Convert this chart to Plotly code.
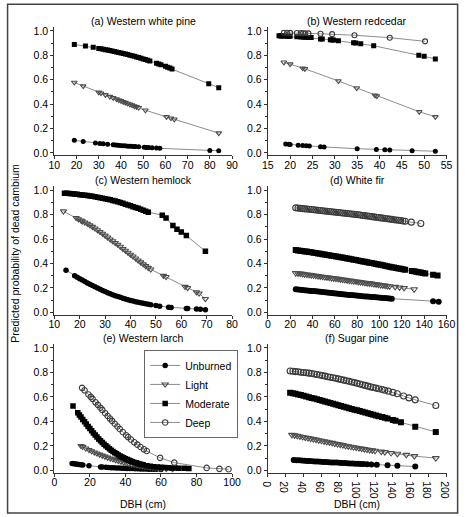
import plotly.graph_objects as go
from plotly.subplots import make_subplots

# ---------------- data ----------------
series_names = ["Unburned", "Light", "Moderate", "Deep"]
panel_titles = ["(a) Western white pine", "(b) Western redcedar", "(c) Western hemlock",
                "(d) White fir", "(e) Western larch", "(f) Sugar pine"]
x_ranges = [[10, 90], [15, 55], [10, 80], [0, 160], [0, 100], [0, 200]]
x_dticks = [10, 5, 10, 20, 20, 20]
y_ticks = [0.0, 0.2, 0.4, 0.6, 0.8, 1.0]
y_title = "Predicted probability of dead cambium"
x_title = "DBH (cm)"

# (a) Western white pine
a_unb_x = [19, 23, 28.5, 30.5, 32, 34, 36.5, 37.5, 38.5, 39.5, 40.5, 41.5, 42.5, 43.5, 44.5, 45.5, 46.5, 48, 50.5, 51.5, 52.5, 54, 56, 57.5, 80, 84]
a_unb_y = [0.104, 0.094, 0.082, 0.078, 0.075, 0.071, 0.067, 0.065, 0.063, 0.062, 0.060, 0.059, 0.057, 0.056, 0.055, 0.053, 0.052, 0.050, 0.046, 0.045, 0.044, 0.042, 0.040, 0.038, 0.021, 0.019]
a_lig_x = [19, 23, 30, 31, 33, 35, 36.5, 38, 39, 40, 41, 42, 43, 44, 45, 46, 47, 48, 51, 60.5, 62.5, 64, 84]
a_lig_y = [0.578, 0.548, 0.497, 0.490, 0.476, 0.462, 0.452, 0.441, 0.434, 0.427, 0.420, 0.413, 0.406, 0.399, 0.392, 0.385, 0.378, 0.371, 0.350, 0.296, 0.285, 0.276, 0.163]
a_mod_x = [19, 24, 27.5, 30, 31, 32, 33, 34, 35, 36, 37, 38, 39, 40, 41, 42, 43, 44, 45, 46, 47, 48, 49, 50, 51, 52, 53, 56, 57, 58, 60, 61, 62, 63, 79.5, 84]
a_mod_y = [0.890, 0.877, 0.866, 0.857, 0.854, 0.850, 0.847, 0.843, 0.840, 0.836, 0.832, 0.828, 0.824, 0.820, 0.816, 0.811, 0.807, 0.802, 0.797, 0.792, 0.787, 0.782, 0.777, 0.771, 0.766, 0.760, 0.754, 0.736, 0.730, 0.723, 0.710, 0.703, 0.696, 0.689, 0.568, 0.535]
a_deep_x = []
a_deep_y = []

# (b) Western redcedar
b_unb_x = [19.0, 19.7, 20.0, 21.8, 22.8, 23.6, 24.3, 26.8, 27.6, 35.0, 39.3, 41.2, 42.3, 47.3, 52.5]
b_unb_y = [0.073, 0.071, 0.070, 0.064, 0.061, 0.059, 0.057, 0.051, 0.049, 0.035, 0.029, 0.026, 0.025, 0.019, 0.014]
b_lig_x = [18.6, 20.0, 22.8, 23.3, 30.8, 34.9, 39.0, 39.4, 48.9, 52.5]
b_lig_y = [0.743, 0.728, 0.695, 0.690, 0.590, 0.532, 0.472, 0.467, 0.338, 0.296]
b_mod_x = [17.5, 17.9, 18.2, 18.6, 19.3, 19.7, 20.0, 21.5, 22.4, 22.9, 23.4, 24.0, 24.7, 26.8, 27.2, 29.0, 29.4, 29.7, 30.8, 34.2, 34.7, 35.8, 38.7, 48.8, 50.0, 52.5]
b_mod_y = [0.960, 0.959, 0.959, 0.958, 0.957, 0.956, 0.956, 0.953, 0.951, 0.950, 0.949, 0.947, 0.946, 0.935, 0.934, 0.928, 0.926, 0.925, 0.920, 0.903, 0.901, 0.896, 0.879, 0.801, 0.792, 0.771]
b_deep_x = [18.6, 19.3, 20.0, 21.5, 22.4, 22.9, 23.4, 24.1, 26.8, 29.4, 34.4, 42.3, 50.2]
b_deep_y = [0.985, 0.985, 0.984, 0.983, 0.982, 0.981, 0.981, 0.980, 0.977, 0.974, 0.965, 0.945, 0.915]

# (c) Western hemlock
c_unb_x = [14.6, 18, 19, 20, 21, 22, 23, 24, 25, 26, 27, 28, 29, 30, 31, 32, 33, 34, 35, 36, 37, 38, 39, 40, 41, 42, 43, 44, 45, 46, 47, 48, 50, 51.5, 55, 56, 62, 62.5, 66, 67.5, 69.5]
c_unb_y = [0.345, 0.300, 0.288, 0.276, 0.264, 0.252, 0.241, 0.230, 0.219, 0.209, 0.199, 0.189, 0.179, 0.170, 0.161, 0.153, 0.145, 0.137, 0.130, 0.123, 0.116, 0.110, 0.104, 0.098, 0.093, 0.088, 0.083, 0.078, 0.074, 0.070, 0.066, 0.062, 0.056, 0.051, 0.043, 0.041, 0.032, 0.031, 0.027, 0.025, 0.022]
c_lig_x = [13.6, 18.6, 19.5, 20.5, 21, 22, 23, 24, 25, 26, 27, 28, 29, 30, 31, 32, 33, 34, 35, 36, 37, 38, 39, 40, 41, 42, 43, 44, 45, 46, 47, 48, 53, 54, 61.5, 62.5, 66, 67, 69.5]
c_lig_y = [0.827, 0.773, 0.763, 0.752, 0.745, 0.736, 0.726, 0.713, 0.700, 0.687, 0.673, 0.659, 0.644, 0.629, 0.613, 0.597, 0.583, 0.569, 0.554, 0.538, 0.520, 0.505, 0.489, 0.473, 0.458, 0.442, 0.426, 0.410, 0.394, 0.379, 0.365, 0.352, 0.300, 0.290, 0.210, 0.200, 0.165, 0.155, 0.110]
c_mod_x = [14, 15, 16, 17, 18, 19, 20, 21, 22, 23, 24, 25, 26, 27, 28, 29, 30, 31, 32, 33, 34, 35, 36, 37, 38, 39, 40, 41, 42, 43, 44, 45, 46, 47, 52.5, 54, 56.7, 58.3, 60, 62, 69.5]
c_mod_y = [0.975, 0.974, 0.972, 0.970, 0.968, 0.966, 0.963, 0.961, 0.958, 0.955, 0.952, 0.949, 0.946, 0.942, 0.938, 0.934, 0.930, 0.926, 0.921, 0.916, 0.910, 0.904, 0.898, 0.892, 0.885, 0.879, 0.872, 0.865, 0.858, 0.851, 0.843, 0.836, 0.828, 0.820, 0.795, 0.772, 0.710, 0.680, 0.657, 0.628, 0.500]
c_deep_x = []
c_deep_y = []

# (d) White fir
d_unb_x = [25, 27, 29, 31, 33, 35, 37, 39, 41, 43, 45, 47, 49, 51, 53, 55, 57, 59, 61, 63, 65, 67, 69, 71, 73, 75, 77, 79, 81, 83, 85, 87, 89, 91, 93, 95, 97, 99, 101, 103, 105, 107, 109, 111, 148, 153]
d_unb_y = [0.190, 0.188, 0.186, 0.184, 0.182, 0.180, 0.178, 0.176, 0.174, 0.172, 0.170, 0.168, 0.166, 0.164, 0.162, 0.160, 0.158, 0.156, 0.154, 0.152, 0.150, 0.149, 0.147, 0.145, 0.143, 0.142, 0.140, 0.138, 0.136, 0.135, 0.133, 0.131, 0.130, 0.128, 0.126, 0.125, 0.123, 0.121, 0.120, 0.118, 0.117, 0.115, 0.114, 0.112, 0.092, 0.088]
d_lig_x = [25, 27, 29, 31, 33, 35, 37, 39, 41, 43, 45, 47, 49, 51, 53, 55, 57, 59, 61, 63, 65, 67, 69, 71, 73, 75, 77, 79, 81, 83, 85, 87, 89, 91, 93, 95, 97, 99, 101, 103, 105, 107, 109, 114, 118, 122, 131]
d_lig_y = [0.322, 0.320, 0.317, 0.315, 0.312, 0.310, 0.307, 0.305, 0.302, 0.300, 0.297, 0.294, 0.292, 0.289, 0.287, 0.284, 0.281, 0.279, 0.276, 0.274, 0.271, 0.268, 0.266, 0.263, 0.261, 0.258, 0.255, 0.253, 0.250, 0.248, 0.245, 0.242, 0.240, 0.237, 0.235, 0.232, 0.229, 0.227, 0.224, 0.222, 0.219, 0.216, 0.214, 0.209, 0.204, 0.200, 0.189]
d_mod_x = [25, 27, 29, 31, 33, 35, 37, 39, 41, 43, 45, 47, 49, 51, 53, 55, 57, 59, 61, 63, 65, 67, 69, 71, 73, 75, 77, 79, 81, 83, 85, 87, 89, 91, 93, 95, 97, 99, 101, 103, 105, 107, 109, 111, 113, 115, 117, 119, 121, 123, 129, 131, 133, 135, 137, 139, 141, 148, 152]
d_mod_y = [0.510, 0.507, 0.505, 0.502, 0.499, 0.497, 0.494, 0.491, 0.488, 0.485, 0.482, 0.479, 0.476, 0.473, 0.470, 0.467, 0.464, 0.461, 0.458, 0.455, 0.451, 0.448, 0.445, 0.441, 0.438, 0.435, 0.431, 0.428, 0.424, 0.421, 0.417, 0.414, 0.410, 0.407, 0.403, 0.400, 0.396, 0.392, 0.389, 0.385, 0.381, 0.378, 0.374, 0.370, 0.367, 0.363, 0.359, 0.356, 0.352, 0.348, 0.339, 0.336, 0.332, 0.329, 0.326, 0.322, 0.319, 0.308, 0.301]
d_deep_x = [25, 27, 29, 31, 33, 35, 37, 39, 41, 43, 45, 47, 49, 51, 53, 55, 57, 59, 61, 63, 65, 67, 69, 71, 73, 75, 77, 79, 81, 83, 85, 87, 89, 91, 93, 95, 97, 99, 101, 103, 105, 107, 109, 111, 113, 115, 117, 119, 121, 123, 128.5, 137]
d_deep_y = [0.855, 0.853, 0.851, 0.849, 0.847, 0.845, 0.843, 0.841, 0.839, 0.837, 0.835, 0.833, 0.831, 0.829, 0.827, 0.825, 0.823, 0.821, 0.819, 0.817, 0.815, 0.813, 0.811, 0.809, 0.807, 0.805, 0.803, 0.801, 0.798, 0.796, 0.793, 0.791, 0.788, 0.786, 0.783, 0.781, 0.778, 0.776, 0.773, 0.771, 0.768, 0.766, 0.763, 0.761, 0.758, 0.756, 0.753, 0.751, 0.748, 0.745, 0.738, 0.727]

# (e) Western larch
e_unb_x = [10, 11, 12, 13, 14, 15, 16, 19.5, 26, 27, 29, 30.5, 32, 33.5, 35, 36.5, 38, 39.5, 41, 42.5, 44, 45.5, 47, 48.5, 50, 51.5, 53, 54.5, 56, 57.5, 60]
e_unb_y = [0.055, 0.053, 0.051, 0.049, 0.047, 0.045, 0.044, 0.038, 0.028, 0.027, 0.025, 0.024, 0.022, 0.021, 0.020, 0.019, 0.018, 0.017, 0.016, 0.015, 0.014, 0.013, 0.012, 0.011, 0.011, 0.010, 0.009, 0.009, 0.008, 0.008, 0.007]
e_lig_x = [15, 16, 17.7, 19.5, 21, 22.5, 24, 25.5, 27, 28.5, 30, 31.5, 33, 34.5, 36, 37.5, 39, 40.5, 42, 43.5, 45, 46.5, 48, 49.5, 51, 52.5, 54, 55.5, 57, 58.5, 60, 63, 66.5]
e_lig_y = [0.200, 0.193, 0.180, 0.167, 0.157, 0.147, 0.138, 0.129, 0.121, 0.113, 0.105, 0.098, 0.091, 0.084, 0.077, 0.071, 0.065, 0.059, 0.054, 0.049, 0.045, 0.041, 0.037, 0.034, 0.031, 0.028, 0.025, 0.022, 0.020, 0.018, 0.016, 0.013, 0.010]
e_mod_x = [10.5, 13.2, 14.1, 15, 16, 17, 18, 19, 20, 21, 22, 23, 24, 25, 26, 27, 28, 29, 30, 31, 32, 33, 34, 35, 36, 37, 38, 39, 40, 41, 42, 43, 44, 45, 46, 47, 48, 49, 50, 52, 54, 56, 58, 60, 62, 64, 66, 68, 70, 73, 75.7]
e_mod_y = [0.525, 0.471, 0.453, 0.435, 0.416, 0.397, 0.378, 0.359, 0.341, 0.323, 0.306, 0.289, 0.273, 0.257, 0.242, 0.228, 0.214, 0.201, 0.188, 0.177, 0.165, 0.154, 0.144, 0.135, 0.126, 0.117, 0.109, 0.102, 0.094, 0.088, 0.082, 0.076, 0.070, 0.065, 0.061, 0.056, 0.052, 0.048, 0.045, 0.038, 0.033, 0.030, 0.027, 0.025, 0.023, 0.021, 0.020, 0.019, 0.018, 0.017, 0.015]
e_deep_x = [15.6, 17, 19.2, 20.5, 21.5, 23.2, 24.5, 25.9, 27, 28.6, 30, 31.3, 32.5, 34, 35.5, 36.8, 38.5, 40.4, 41.5, 43.1, 45, 46.7, 48.5, 50.4, 52, 59.5, 67.5, 85.7, 92.9, 98]
e_deep_y = [0.674, 0.654, 0.620, 0.600, 0.584, 0.556, 0.535, 0.512, 0.494, 0.467, 0.444, 0.423, 0.404, 0.381, 0.358, 0.338, 0.313, 0.287, 0.272, 0.252, 0.229, 0.210, 0.191, 0.172, 0.158, 0.102, 0.063, 0.020, 0.012, 0.009]

# (f) Sugar pine
f_unb_x = [29, 32, 35, 38, 41, 44, 47, 50, 53, 56, 59, 62, 65, 68, 71, 74, 77, 80, 83, 86, 89, 92, 95, 98, 101, 104, 107, 111, 116, 122, 134, 145, 165]
f_unb_y = [0.085, 0.083, 0.082, 0.080, 0.079, 0.077, 0.076, 0.074, 0.073, 0.072, 0.070, 0.069, 0.068, 0.066, 0.065, 0.064, 0.063, 0.061, 0.060, 0.059, 0.058, 0.056, 0.055, 0.054, 0.053, 0.052, 0.051, 0.049, 0.047, 0.045, 0.041, 0.037, 0.031]
f_lig_x = [27, 30, 33, 36, 39, 42, 45, 48, 51, 54, 57, 60, 63, 66, 69, 72, 75, 78, 81, 84, 87, 90, 93, 96, 99, 102, 105, 108, 111, 114, 117, 120, 127, 131, 138, 145, 155, 164, 188]
f_lig_y = [0.290, 0.286, 0.282, 0.277, 0.273, 0.268, 0.264, 0.260, 0.255, 0.251, 0.246, 0.242, 0.237, 0.233, 0.228, 0.224, 0.219, 0.215, 0.210, 0.206, 0.201, 0.197, 0.193, 0.189, 0.185, 0.181, 0.177, 0.174, 0.170, 0.166, 0.163, 0.160, 0.153, 0.149, 0.142, 0.135, 0.126, 0.116, 0.100]
f_mod_x = [25, 28, 31, 34, 37, 40, 43, 46, 49, 52, 55, 58, 61, 64, 67, 70, 73, 76, 79, 82, 85, 88, 91, 94, 97, 100, 103, 106, 109, 112, 115, 118, 121, 124, 128, 131, 134, 140, 143, 149, 165, 188]
f_mod_y = [0.635, 0.630, 0.625, 0.620, 0.615, 0.610, 0.604, 0.598, 0.592, 0.586, 0.580, 0.574, 0.568, 0.562, 0.556, 0.550, 0.544, 0.538, 0.532, 0.526, 0.520, 0.514, 0.508, 0.502, 0.496, 0.490, 0.484, 0.478, 0.472, 0.466, 0.460, 0.454, 0.448, 0.442, 0.435, 0.429, 0.423, 0.411, 0.405, 0.393, 0.357, 0.314]
f_deep_x = [25, 28, 31, 34, 37, 40, 43, 46, 49, 52, 55, 58, 61, 64, 67, 70, 73, 76, 79, 82, 85, 88, 91, 94, 97, 100, 103, 106, 109, 112, 115, 118, 121, 124, 128, 131, 135, 140, 145, 152, 158, 165, 188]
f_deep_y = [0.812, 0.810, 0.807, 0.805, 0.802, 0.800, 0.797, 0.794, 0.791, 0.787, 0.783, 0.779, 0.774, 0.770, 0.765, 0.761, 0.756, 0.752, 0.747, 0.742, 0.737, 0.732, 0.727, 0.722, 0.717, 0.711, 0.705, 0.699, 0.694, 0.688, 0.682, 0.677, 0.672, 0.667, 0.660, 0.655, 0.647, 0.637, 0.626, 0.607, 0.592, 0.576, 0.530]

panels = [
    [(a_unb_x, a_unb_y), (a_lig_x, a_lig_y), (a_mod_x, a_mod_y), (a_deep_x, a_deep_y)],
    [(b_unb_x, b_unb_y), (b_lig_x, b_lig_y), (b_mod_x, b_mod_y), (b_deep_x, b_deep_y)],
    [(c_unb_x, c_unb_y), (c_lig_x, c_lig_y), (c_mod_x, c_mod_y), (c_deep_x, c_deep_y)],
    [(d_unb_x, d_unb_y), (d_lig_x, d_lig_y), (d_mod_x, d_mod_y), (d_deep_x, d_deep_y)],
    [(e_unb_x, e_unb_y), (e_lig_x, e_lig_y), (e_mod_x, e_mod_y), (e_deep_x, e_deep_y)],
    [(f_unb_x, f_unb_y), (f_lig_x, f_lig_y), (f_mod_x, f_mod_y), (f_deep_x, f_deep_y)],
]

# ---------------- style ----------------
W, H = 470, 517
FONT = "Liberation Sans, Arial, sans-serif"
FS = 10.5
panel_marker_size = [5, 5, 5.5, 6, 5.5, 6]
marker_base = [
    dict(symbol="circle", color="black"),
    dict(symbol="triangle-down-open", color="#4d4d4d", line=dict(width=1.1)),
    dict(symbol="square", color="black"),
    dict(symbol="circle-open", color="#3a3a3a", line=dict(width=1.1)),
]
line_color = "#8c8c8c"

col_px = [(49, 233), (270, 455)]
row_px = [(24.6, 154.2), (185.6, 315.5), (345.3, 475.3)]

fig = make_subplots(rows=3, cols=2)

for p, series in enumerate(panels):
    r, c = p // 2 + 1, p % 2 + 1
    for s, (xs, ys) in enumerate(series):
        if not xs:
            continue
        mk = dict(marker_base[s])
        mk["size"] = panel_marker_size[p]
        fig.add_trace(go.Scatter(
            x=xs, y=ys, mode="lines+markers", name=series_names[s],
            line=dict(color=line_color, width=1),
            marker=mk,
            showlegend=(p == 4), legendrank=s,
        ), row=r, col=c)

annotations = []
for p in range(6):
    r, c = p // 2, p % 2
    x0, x1 = col_px[c]
    top, bot = row_px[r]
    xd = [x0 / W, x1 / W]
    yd = [1 - bot / H, 1 - top / H]
    ax_idx = "" if p == 0 else str(p + 1)
    fig.layout["xaxis" + ax_idx].update(
        domain=xd, range=x_ranges[p], dtick=x_dticks[p], tick0=x_ranges[p][0],
        showline=True, linecolor="#333333", linewidth=1, ticks="outside", ticklen=3,
        tickcolor="#333333", showgrid=False, zeroline=False, ticklabelstandoff=-3,
        tickfont=dict(family=FONT, size=FS, color="black"),
    )
    fig.layout["yaxis" + ax_idx].update(
        domain=yd, range=[-0.02, 1.03], tickvals=y_ticks, tickformat=".1f",
        showline=True, linecolor="#333333", linewidth=1, ticks="outside", ticklen=3,
        tickcolor="#333333", showgrid=False, zeroline=False,
        minor=dict(dtick=0.1, tick0=0, ticks="outside", ticklen=2, tickcolor="#333333"),
        tickfont=dict(family=FONT, size=FS, color="black"),
    )
    annotations.append(dict(
        text=panel_titles[p], xref="paper", yref="paper",
        x=(x0 + x1) / 2 / W, y=1 - (top - 6.5) / H, xanchor="center", yanchor="middle",
        showarrow=False, font=dict(family=FONT, size=FS, color="black"),
    ))

for cx in (141, 362):
    annotations.append(dict(
        text=x_title, xref="paper", yref="paper", x=cx / W, y=1 - 507 / H,
        xanchor="center", yanchor="middle", showarrow=False,
        font=dict(family=FONT, size=FS, color="black"),
    ))
annotations.append(dict(
    text=y_title, xref="paper", yref="paper", x=8 / W, y=1 - 253 / H,
    xanchor="center", yanchor="middle", textangle=-90, showarrow=False,
    font=dict(family=FONT, size=FS, color="black"),
))

fig.update_layout(
    width=W, height=H, margin=dict(l=0, r=0, t=0, b=0),
    paper_bgcolor="white", plot_bgcolor="white",
    font=dict(family=FONT, size=FS, color="black"),
    annotations=annotations,
    legend=dict(
        x=142 / W, y=1 - 351 / H, xanchor="left", yanchor="top",
        bordercolor="#666666", borderwidth=1, bgcolor="white",
        font=dict(family=FONT, size=FS, color="black"),
        itemwidth=30, tracegroupgap=0,
    ),
    shapes=[dict(type="rect", xref="paper", yref="paper",
                 x0=0.6 / W, x1=466.5 / W, y0=1 - 516 / H, y1=1 - 1.2 / H,
                 line=dict(color="#444444", width=1.5), fillcolor="rgba(0,0,0,0)")],
)

fig.write_html("out.html")
